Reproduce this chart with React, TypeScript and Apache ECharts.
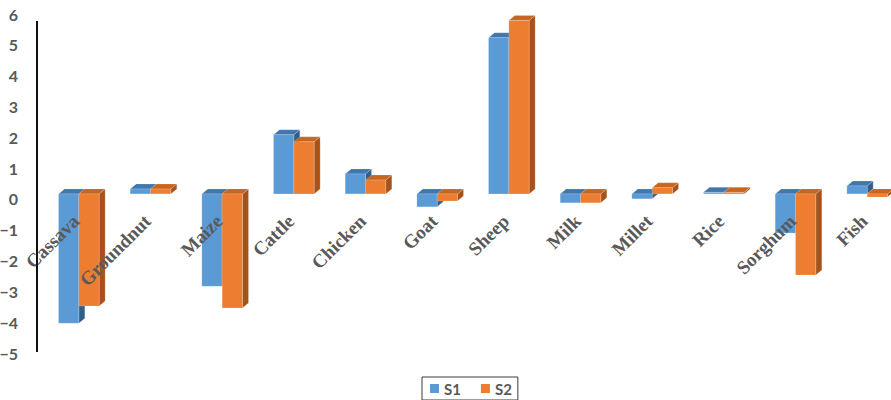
import React, { useEffect, useRef } from "react";
import * as echarts from "echarts";

// Crop / product categories along the horizontal axis
const categories = [
  "Cassava", "Groundnut", "Maize", "Cattle", "Chicken", "Goat",
  "Sheep", "Milk", "Millet", "Rice", "Sorghum", "Fish",
];

// Scenario values
const s1Values = [-4.2, 0.16, -3.0, 1.92, 0.65, -0.42, 5.07, -0.29, -0.16, 0.05, -1.27, 0.26];
const s2Values = [-3.64, 0.16, -3.7, 1.69, 0.45, -0.23, 5.63, -0.29, 0.2, 0.05, -2.63, -0.1];

const seriesNames = ["S1", "S2"];

// Value-axis range and step
const yMin = -5;
const yMax = 6;
const yStep = 1;

// front / top / side shades for the box-shaped columns
const palettes = [
  { front: "#5B9BD5", top: "#4177AE", side: "#345E8A" },
  { front: "#ED7D31", top: "#C8651E", side: "#A5531D" },
];

// oblique offset: columns stand a little behind the axis plane, and have depth
const OFF_X = 6;
const OFF_Y = -5;
const DEPTH_X = 6;
const DEPTH_Y = -5;

const labelFont = 'bold 19px "Liberation Serif", "Times New Roman", serif';

function makeBoxRenderer(seriesPos: number) {
  const pal = palettes[seriesPos];
  return (params: any, api: any) => {
    const idx = api.value(0);
    const v = api.value(1);
    const base = api.coord([idx, 0]);
    const end = api.coord([idx, v]);
    const band = api.size([1, 0])[0];
    const bw = band * 0.2835;
    const x0 = base[0] + (seriesPos === 0 ? -bw : 0) + OFF_X;
    const yA = base[1] + OFF_Y;
    const yB = end[1] + OFF_Y;
    const yTop = Math.min(yA, yB);
    const yBot = Math.max(yA, yB);
    const edge = { stroke: "rgba(255,255,255,0.35)", lineWidth: 0.5 };
    return {
      type: "group",
      children: [
        {
          type: "polygon",
          shape: {
            points: [
              [x0 + bw, yTop],
              [x0 + bw + DEPTH_X, yTop + DEPTH_Y],
              [x0 + bw + DEPTH_X, yBot + DEPTH_Y],
              [x0 + bw, yBot],
            ],
          },
          style: { fill: pal.side, ...edge },
        },
        {
          type: "polygon",
          shape: {
            points: [
              [x0, yTop],
              [x0 + bw, yTop],
              [x0 + bw + DEPTH_X, yTop + DEPTH_Y],
              [x0 + DEPTH_X, yTop + DEPTH_Y],
            ],
          },
          style: { fill: pal.top, ...edge },
        },
        {
          type: "rect",
          shape: { x: x0, y: yTop, width: bw, height: Math.max(yBot - yTop, 0.6) },
          style: { fill: pal.front, ...edge },
        },
      ],
    };
  };
}

// category names sit just under the zero line, slanted at 45 degrees
function renderCategoryLabel(params: any, api: any) {
  const idx = api.value(0);
  const p = api.coord([idx, 0]);
  return {
    type: "text",
    x: p[0] + 3,
    y: p[1] + 19,
    rotation: Math.PI / 4,
    style: {
      text: categories[idx],
      font: labelFont,
      fill: "#595959",
      align: "right",
      verticalAlign: "middle",
    },
  };
}

export default function App() {
  const ref = useRef<HTMLDivElement>(null);

  useEffect(() => {
    document.body.style.margin = "0";
    if (!ref.current) return;
    const chart = echarts.init(ref.current, undefined, { renderer: "svg" });

    const valueSets = [s1Values, s2Values];

    chart.setOption({
      animation: false,
      backgroundColor: "#ffffff",
      grid: {
        left: 37,
        top: 14,
        width: 860,
        height: 339,
        containLabel: false,
        outerBoundsMode: "none",
      },
      legend: {
        data: seriesNames,
        left: 422,
        top: 377,
        orient: "horizontal",
        icon: "rect",
        itemWidth: 9,
        itemHeight: 9,
        itemGap: 20,
        borderColor: "#3a3a3a",
        borderWidth: 1,
        borderRadius: 0,
        padding: [4, 6, 4, 8],
        textStyle: {
          fontFamily: "Lato",
          fontWeight: "bold",
          fontSize: 15,
          color: "#595959",
        },
      },
      xAxis: {
        type: "category",
        data: categories,
        axisLine: { show: false },
        axisTick: { show: false },
        splitLine: { show: false },
        axisLabel: { show: false },
      },
      yAxis: {
        type: "value",
        min: yMin,
        max: yMax,
        interval: yStep,
        axisLine: { show: false },
        axisTick: { show: false },
        splitLine: { show: false },
        axisLabel: {
          margin: 19,
          color: "#595959",
          fontFamily: "Lato",
          fontWeight: "bold",
          fontSize: 16,
          formatter: (val: number) => String(val).replace("-", "\u2212"),
        },
      },
      graphic: [
        {
          type: "line",
          shape: { x1: 37, y1: 21, x2: 37, y2: 352 },
          style: { stroke: "#111111", lineWidth: 2 },
          z: 20,
        },
      ],
      series: [
        ...seriesNames.map((name, si) => ({
          name,
          type: "custom",
          renderItem: makeBoxRenderer(si),
          itemStyle: { color: palettes[si].front },
          encode: { x: 0, y: 1 },
          data: valueSets[si].map((v, i) => [i, v]),
          z: 2 + si,
        })),
        {
          name: "categoryLabels",
          type: "custom",
          renderItem: renderCategoryLabel,
          encode: { x: 0, y: 1 },
          data: categories.map((_, i) => [i, 0]),
          silent: true,
          z: 10,
        },
      ],
    });

    return () => chart.dispose();
  }, []);

  return <div ref={ref} style={{ width: 891, height: 400 }} />;
}
